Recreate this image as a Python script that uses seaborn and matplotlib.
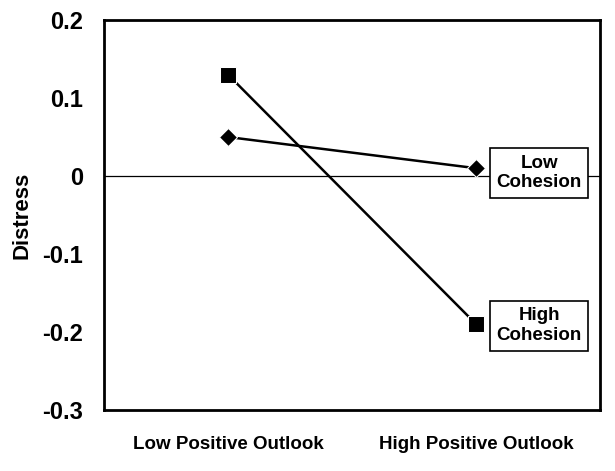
import pandas as pd
import numpy as np
import matplotlib
matplotlib.use('Agg')
import matplotlib.pyplot as plt
import seaborn as sns

outlook = ['Low Positive Outlook', 'High Positive Outlook']
low_cohesion = [0.05, 0.01]
high_cohesion = [0.13, -0.19]

df = pd.DataFrame({
    'outlook': outlook * 2,
    'distress': low_cohesion + high_cohesion,
    'group': ['Low\nCohesion'] * 2 + ['High\nCohesion'] * 2,
})

sns.set_style('white', {'text.color': 'black', 'axes.labelcolor': 'black',
                        'xtick.color': 'black', 'ytick.color': 'black'})
plt.rcParams['font.family'] = ['Liberation Sans', 'DejaVu Sans']

fig = plt.figure(figsize=(6.15, 4.71), dpi=100)
ax = fig.add_axes([0.169, 0.1295, 0.807, 0.828])

ax.axhline(0, color='black', lw=0.9, zorder=1)
sns.lineplot(data=df, x='outlook', y='distress', hue='group', style='group',
             markers={'Low\nCohesion': 'D', 'High\nCohesion': 's'},
             dashes=False, palette=['black', 'black'], linewidth=1.8,
             markersize=10, legend=False, ax=ax, zorder=3)
for line in ax.lines[1:]:
    if line.get_marker() == 's':
        line.set_markersize(11)
    else:
        line.set_markersize(9)

ax.set_xlim(-0.5, 1.5)
ax.set_ylim(-0.3, 0.2)
ax.set_yticks([0.2, 0.1, 0, -0.1, -0.2, -0.3])
ax.set_yticklabels(['0.2', '0.1', '0', '-0.1', '-0.2', '-0.3'],
                   fontsize=17, fontweight='bold')
ax.set_xticks([0, 1])
ax.set_xticklabels(outlook, fontsize=13.5, fontweight='bold')
ax.tick_params(axis='y', length=0, pad=15, labelcolor='black')
ax.tick_params(axis='x', length=0, pad=19, labelcolor='black')
ax.set_xlabel('')
ax.set_ylabel('Distress', fontsize=16, fontweight='bold', labelpad=7,
              color='black')
for s in ax.spines.values():
    s.set_linewidth(2)
    s.set_color('black')

box = dict(boxstyle='square,pad=0.35', fc='white', ec='black', lw=1.2)
ax.text(1.254, 0.004, 'Low\nCohesion', ha='center', va='center', color='black',
        fontsize=13.5, fontweight='bold', bbox=box, linespacing=1.2)
ax.text(1.254, -0.192, 'High\nCohesion', ha='center', va='center', color='black',
        fontsize=13.5, fontweight='bold', bbox=box, linespacing=1.2)

fig.savefig('out.png', dpi=100)
